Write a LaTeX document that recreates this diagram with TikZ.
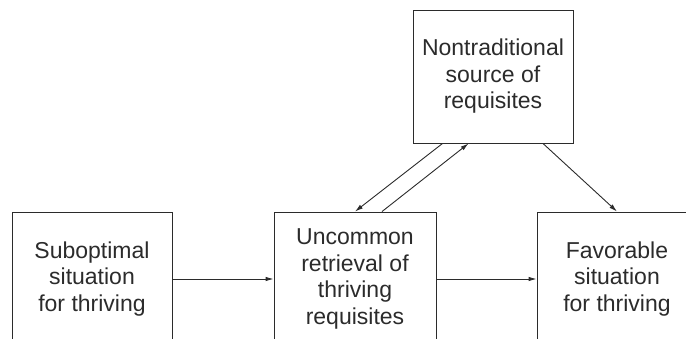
\documentclass[tikz,border=0pt]{standalone}
\usepackage{fontspec}
\setmainfont{Liberation Sans}
\usetikzlibrary{arrows.meta,calc}
\definecolor{ink}{HTML}{2B2B2B}
\tikzset{
  box/.style={draw=ink, line width=0.9pt, rectangle, align=center,
    text=ink, font=\fontsize{23}{26.5}\selectfont, inner sep=0pt},
  arr/.style={draw=ink, line width=0.9pt, -{Latex[length=8pt,width=4.6pt]}}
}
\begin{document}
\begin{tikzpicture}[x=1pt,y=-1pt]
  \useasboundingbox (0,0) rectangle (686,339);
  \clip (0,0) rectangle (686,339);
  \node[box, minimum width=160pt, minimum height=133pt] (src) at (493,76.5)
    {Nontraditional\\source of\\requisites};
  \node[box, minimum width=160pt, minimum height=134pt] (sub) at (92,279)
    {Suboptimal\\situation\\for thriving};
  \node[box, minimum width=162pt, minimum height=134pt] (ret) at (355,279)
    {Uncommon\\retrieval of\\thriving\\requisites};
  \node[box, minimum width=160pt, minimum height=134pt] (fav) at (617,279)
    {Favorable\\situation\\for thriving};
  \draw[arr] (sub) -- (ret);
  \draw[arr] (ret) -- (fav);
  \draw[arr] ($(src.south west)+(30,0)$) -- (ret.north);
  \draw[arr] ($(ret.north)+(27,0)$) -- ($(src.south west)+(56,0)$);
  \draw[arr] ($(src.south east)+(-30.5,0)$) -- (fav.north);
\end{tikzpicture}
\end{document}
